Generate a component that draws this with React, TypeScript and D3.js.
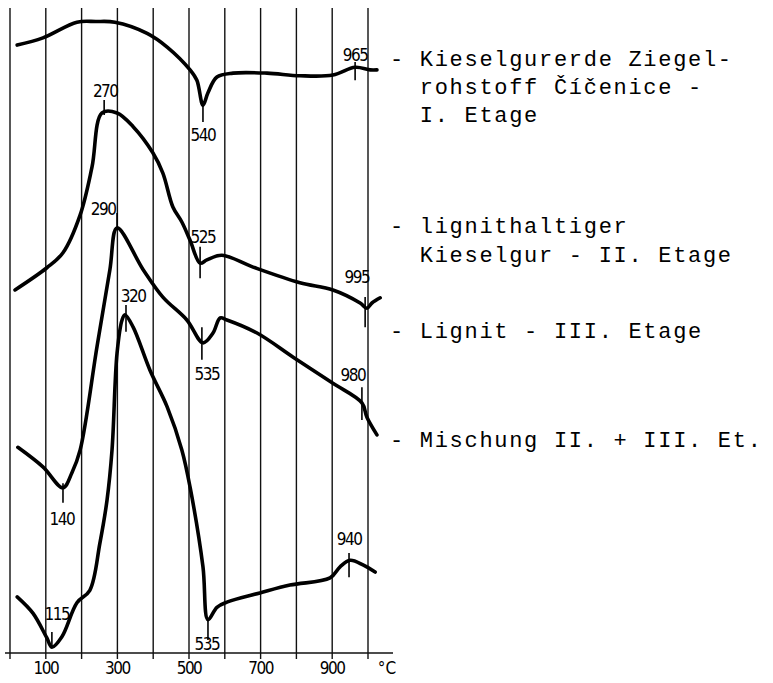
import React, { useEffect, useRef } from "react";
import * as d3 from "d3";

// temperatures in °C, signal in arbitrary units (0 = baseline at the axis)
const kieselgurT = [20, 92, 187, 240, 293, 383, 439, 503, 522, 539, 553, 578, 623, 718, 810, 902, 964, 1006, 1025];
const kieselgurV = [93.1, 94.2, 96.6, 96.7, 96.6, 94.9, 92.8, 89.3, 87.7, 83.9, 85.8, 88.2, 88.8, 88.8, 88.4, 88.5, 89.7, 89.3, 89.3];

const lignKieselT = [14, 103, 148, 196, 229, 257, 299, 344, 399, 427, 455, 480, 503, 531, 550, 592, 679, 810, 902, 978, 997, 1011, 1034];
const lignKieselV = [55.6, 59.0, 61.3, 67.1, 74.4, 82.7, 82.7, 80.6, 76.6, 73.5, 68.3, 66.0, 63.2, 59.7, 60.2, 60.9, 59.1, 56.7, 55.6, 53.6, 52.8, 53.6, 54.4];

const lignitT = [22, 92, 148, 173, 196, 243, 279, 299, 372, 427, 494, 539, 567, 587, 606, 690, 791, 902, 983, 997, 1025];
const lignitV = [31.5, 28.5, 25.3, 27.6, 31.1, 46.9, 58.7, 65.1, 58.7, 54.5, 51.0, 47.5, 49.0, 51.3, 51.0, 49.0, 45.3, 41.3, 38.3, 36.1, 33.4];

const mischungT = [20, 64, 103, 117, 145, 187, 223, 251, 271, 285, 299, 313, 321, 344, 391, 439, 480, 503, 539, 553, 578, 606, 698, 782, 894, 922, 950, 986, 1020];
const mischungV = [8.6, 6.1, 2.3, 0.9, 2.5, 7.7, 9.6, 16.8, 23.4, 31.1, 45.9, 51.0, 51.8, 49.9, 43.3, 37.7, 31.1, 25.4, 13.2, 5.1, 7.0, 7.8, 9.2, 10.4, 11.5, 13.2, 14.2, 13.5, 12.4];

// peak marks: label, tick temperature, tick from/to, label temperature, label baseline
const peakLabels = ["540", "965", "270", "525", "995", "290", "140", "535", "980", "115", "320", "535", "940"];
const peakT = [539, 964, 263, 531, 992, 299, 148, 536, 983, 117, 324, 553, 947];
const peakV0 = [83.9, 90.5, 84.7, 62.2, 54.5, 67.4, 26.0, 49.9, 40.7, 3.2, 53.3, 5.1, 15.3];
const peakV1 = [81.3, 87.7, 82.4, 57.4, 49.9, 64.8, 23.0, 44.9, 35.7, 0.9, 49.2, 2.0, 11.6];
const peakLabelT = [539, 964, 266, 539, 969, 260, 145, 550, 958, 131, 344, 550, 947];
const peakLabelV = [78.4, 90.7, 85.1, 62.8, 56.7, 67.1, 19.6, 41.8, 41.7, 5.1, 53.8, 0.5, 16.5];

const gridTicks = [0, 100, 200, 300, 400, 500, 600, 700, 800, 900, 1000];
const axisLabels = ["100", "300", "500", "700", "900"];
const axisLabelT = [100, 300, 500, 700, 900];

const legendLines = [
  "- Kieselgurerde Ziegel-",
  "  rohstoff Číčenice -",
  "  I. Etage",
  "- lignithaltiger",
  "  Kieselgur - II. Etage",
  "- Lignit - III. Etage",
  "- Mischung II. + III. Et.",
];
const legendBaselines = [66, 94, 122, 233, 262, 338, 447];

export default function App() {
  const ref = useRef<SVGSVGElement>(null);

  useEffect(() => {
    document.body.style.margin = "0";
    const svg = d3.select(ref.current);
    svg.selectAll("*").remove();

    const x = d3.scaleLinear().domain([0, 1000]).range([10, 368]);
    const y = d3.scaleLinear().domain([0, 100]).range([653, 0]);
    const handFont = "'DejaVu Sans Condensed', 'DejaVu Sans', sans-serif";

    // vertical grid lines
    svg.selectAll(".grid")
      .data(gridTicks)
      .join("line")
      .attr("x1", d => x(d))
      .attr("x2", d => x(d))
      .attr("y1", 8)
      .attr("y2", 659)
      .attr("stroke", "#111")
      .attr("stroke-width", 1.4);

    // horizontal axis
    svg.append("line")
      .attr("x1", 5)
      .attr("x2", 393)
      .attr("y1", y(0))
      .attr("y2", y(0))
      .attr("stroke", "#111")
      .attr("stroke-width", 1.6);

    svg.selectAll(".axlab")
      .data(axisLabels)
      .join("text")
      .attr("x", (d, i) => x(axisLabelT[i]))
      .attr("y", 674)
      .attr("text-anchor", "middle")
      .attr("font-family", handFont)
      .attr("font-size", 17)
      .attr("letter-spacing", -1.5)
      .text(d => d);

    svg.append("text")
      .attr("x", x(1053))
      .attr("y", 674)
      .attr("text-anchor", "middle")
      .attr("font-family", handFont)
      .attr("font-size", 17)
      .text("°C");

    // curves
    const series = [
      [kieselgurT, kieselgurV],
      [lignKieselT, lignKieselV],
      [lignitT, lignitV],
      [mischungT, mischungV],
    ];
    const line = d3.line<[number, number]>()
      .x(d => x(d[0]))
      .y(d => y(d[1]))
      .curve(d3.curveCatmullRom.alpha(0.5));

    series.forEach(([ts, vs]) => {
      const pts = ts.map((t, i) => [t, vs[i]] as [number, number]);
      svg.append("path")
        .attr("d", line(pts))
        .attr("fill", "none")
        .attr("stroke", "#000")
        .attr("stroke-width", 3.6)
        .attr("stroke-linejoin", "round")
        .attr("stroke-linecap", "round");
    });

    // peak ticks + labels
    svg.selectAll(".pk")
      .data(peakLabels)
      .join("line")
      .attr("x1", (d, i) => x(peakT[i]))
      .attr("x2", (d, i) => x(peakT[i]))
      .attr("y1", (d, i) => y(peakV0[i]))
      .attr("y2", (d, i) => y(peakV1[i]))
      .attr("stroke", "#000")
      .attr("stroke-width", 1.6);

    svg.selectAll(".pkl")
      .data(peakLabels)
      .join("text")
      .attr("x", (d, i) => x(peakLabelT[i]))
      .attr("y", (d, i) => y(peakLabelV[i]))
      .attr("text-anchor", "middle")
      .attr("font-family", handFont)
      .attr("font-size", 17)
      .attr("letter-spacing", -1.5)
      .text(d => d);

    // legend, typewriter
    svg.selectAll(".leg")
      .data(legendLines)
      .join("text")
      .attr("x", 390)
      .attr("y", (d, i) => legendBaselines[i])
      .attr("font-family", "'Liberation Mono', 'DejaVu Sans Mono', monospace")
      .attr("font-size", 22)
      .attr("letter-spacing", 1.7)
      .attr("xml:space", "preserve")
      .style("white-space", "pre")
      .text(d => d);
  }, []);

  return (
    <svg ref={ref} width={773} height={683} style={{ display: "block", background: "#fff" }} />
  );
}
